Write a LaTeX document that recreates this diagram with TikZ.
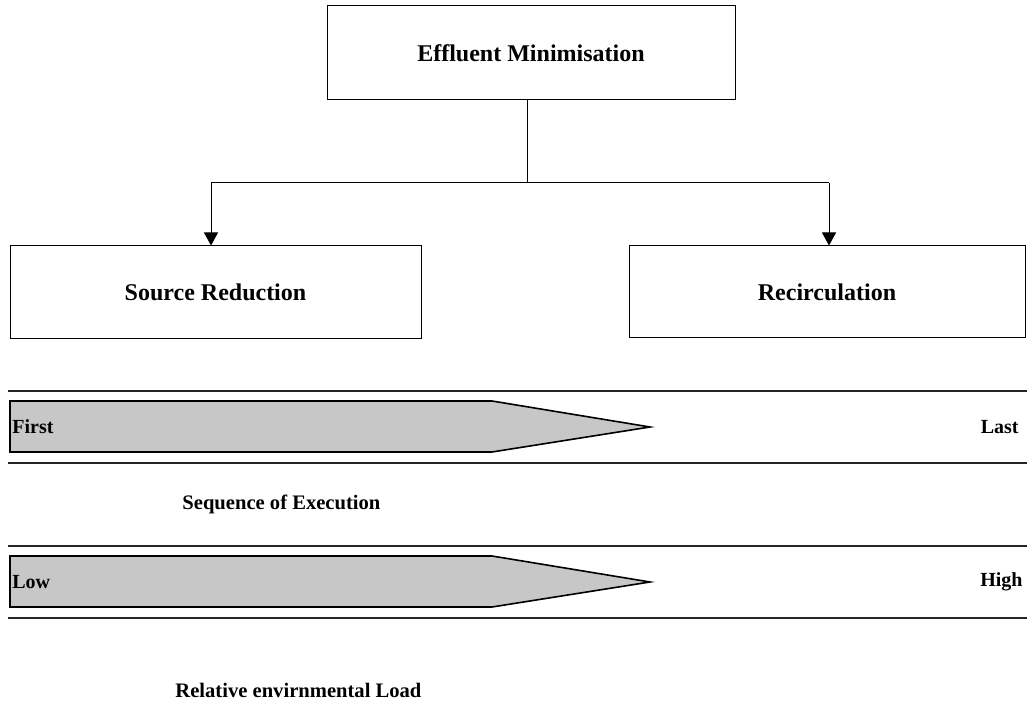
\documentclass[tikz,border=0pt]{standalone}
\usepackage{fontspec}
\setmainfont{Liberation Serif}
\usetikzlibrary{arrows.meta}

\begin{document}
\begin{tikzpicture}[x=0.5pt,y=-0.5pt,
  every node/.style={font=\bfseries},
  box/.style={draw, line width=0.5pt, inner sep=0pt, font=\fontsize{12}{14}\bfseries\selectfont},
  link/.style={line width=0.5pt},
  linkarrow/.style={link, -{Triangle[length=6.5pt,width=7pt]}},
  rule/.style={line width=0.6pt, black!85},
  pointer/.style={fill=black!22, draw=black, line width=0.8pt, line join=miter},
  tag/.style={font=\fontsize{10}{12}\bfseries\selectfont, inner sep=0pt},
  caption/.style={font=\fontsize{10.3}{12}\bfseries\selectfont, inner sep=0pt, anchor=base west}
]
\useasboundingbox (0,0) rectangle (1027,704);

% hierarchy boxes
\node[box, minimum width=204pt, minimum height=47pt] (top) at (531,53) {Effluent Minimisation};
\node[box, minimum width=205.5pt, minimum height=46.5pt] (src) at (215.5,292.5) {Source Reduction};
\node[box, minimum width=198pt, minimum height=46pt] (rec) at (827,292) {Recirculation};

% branching connector
\coordinate (hub) at (527,183);
\coordinate (lt) at (211,183);
\coordinate (rt) at (829,183);
\draw[link] (top.south -| hub) -- (hub);
\draw[link] (lt) -- (rt);
\draw[linkarrow] (lt) -- (lt |- src.north);
\draw[linkarrow] (rt) -- (rt |- rec.north);

% sequence scale
\draw[rule] (8,391) -- (1027,391);
\draw[rule] (8,463) -- (1027,463);
\draw[pointer] (10,401) -- (492,401) -- (650,427) -- (492,452) -- (10,452) -- cycle;
\node[tag, anchor=west] (first) at (12,427) {First};
\node[tag, anchor=east] (last) at (1019,427) {Last};
\node[caption] (seq) at (182,510) {Sequence of Execution};

% environmental load scale
\draw[rule] (8,546) -- (1027,546);
\draw[rule] (8,618) -- (1027,618);
\draw[pointer] (10,556) -- (492,556) -- (650,582) -- (492,607) -- (10,607) -- cycle;
\node[tag, anchor=west] (low) at (12,582) {Low};
\node[tag, anchor=east] (high) at (1023,582) {High};
\node[caption] (load) at (175,697) {Relative envirnmental Load};
\end{tikzpicture}
\end{document}
